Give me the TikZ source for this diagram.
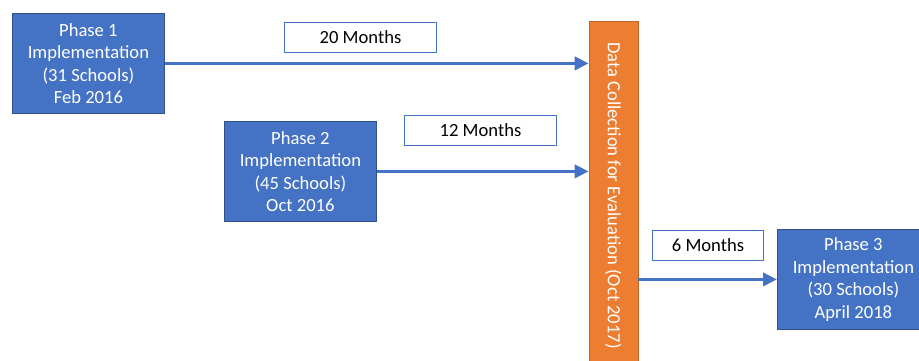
\documentclass[tikz,border=0pt]{standalone}
\usepackage{fontspec}
\setmainfont{Carlito}
\usetikzlibrary{arrows.meta}
\definecolor{phaseblue}{HTML}{4472C4}
\definecolor{phaseline}{HTML}{2F528F}
\definecolor{dataorange}{HTML}{ED7D31}
\begin{document}
\begin{tikzpicture}[x=1pt,y=-1pt,
    phase/.style={anchor=north west, fill=phaseblue, draw=phaseline, line width=0.8pt,
                  text=white, align=center, minimum width=152pt, minimum height=100pt},
    months/.style={anchor=north west, fill=white, draw=phaseblue, line width=1pt,
                   minimum height=30pt},
    arr/.style={draw=phaseblue, line width=3.5pt, -{Triangle[length=14pt,width=13pt]}}]
\tikzset{every node/.style={font=\fontsize{18.6}{22.5}\selectfont, inner sep=0pt}}
\useasboundingbox (0,0) rectangle (919,361);
% phases
\node[phase] (p1) at (12,13) {Phase 1\\Implementation\\(31 Schools)\\Feb 2016};
\node[phase] (p2) at (224,121) {Phase 2\\Implementation\\(45 Schools)\\Oct 2016};
\node[phase] (p3) at (777,229) {Phase 3\\Implementation\\(30 Schools)\\April 2018};
% data collection bar
\node[fill=dataorange, draw=dataorange!80!black, line width=0.6pt, text=white,
      rotate=-90, minimum width=349pt, minimum height=49pt]
    (dc) at (613.5,195.5) {Data Collection for Evaluation (Oct 2017)};
% durations
\node[months, minimum width=152pt] (m20) at (284,22) {20 Months};
\node[months, minimum width=152pt] (m12) at (404,115) {12 Months};
\node[months, minimum width=111pt] (m6) at (652,230) {6 Months};
% arrows
\draw[arr] (p1.east) -- (p1.east -| dc.south);
\draw[arr] (p2.east) -- (p2.east -| dc.south);
\draw[arr] (p3.west -| dc.north) -- (p3.west);
\end{tikzpicture}
\end{document}
